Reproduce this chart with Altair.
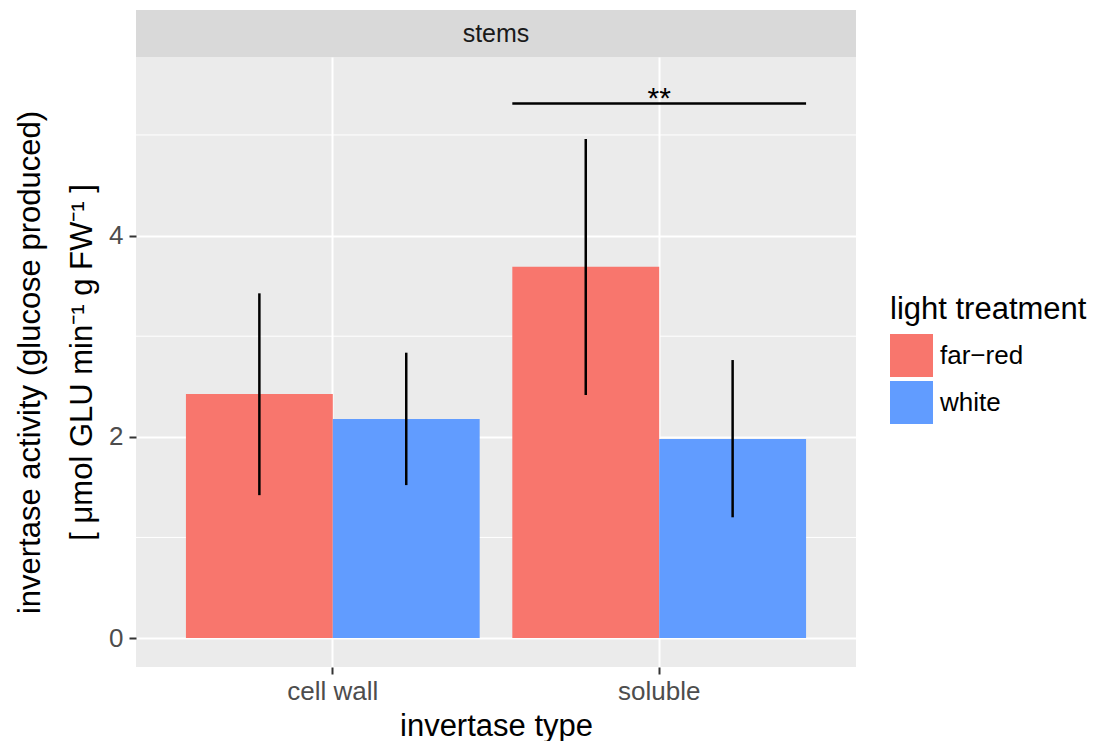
import altair as alt
import pandas as pd

# ---- data ----
types = ["cell wall", "cell wall", "soluble", "soluble"]
treatments = ["far−red", "white", "far−red", "white"]
means = [2.425, 2.177, 3.69, 1.978]
lower = [1.42, 1.52, 2.415, 1.20]
upper = [3.426, 2.836, 4.96, 2.763]

sig_type = ["soluble"]
sig_y = [5.30]
sig_label = ["**"]

minor_grid = [1, 3, 5]
major_ticks = [0, 2, 4]
panel_label = ["stems"]
legend_order = ["far−red", "white"]
bar_colors = ["#F8766D", "#619CFF"]

FONT = "Liberation Sans"

df = pd.DataFrame({"type": types, "treatment": treatments,
                   "mean": means, "lower": lower, "upper": upper})
sig_df = pd.DataFrame({"type": sig_type, "y": sig_y, "label": sig_label})
minor_df = pd.DataFrame({"v": minor_grid})
strip_df = pd.DataFrame({"label": panel_label})

yscale = alt.Scale(domain=[-0.288, 5.775], nice=False, zero=False)
xscale = alt.Scale(paddingInner=0.1, paddingOuter=0.153)

y_title = ["invertase activity (glucose produced)", "[ μmol GLU  min⁻¹ g FW⁻¹ ]"]
y_axis = alt.Axis(values=major_ticks, grid=True, gridColor="white", gridWidth=2,
                  domain=False, tickSize=7, tickWidth=2, tickColor="#333333",
                  labelFontSize=26, labelColor="#4D4D4D", labelPadding=6,
                  titleFontSize=31, titleColor="black", titleFontWeight="normal",
                  titleLineHeight=52, titlePadding=10)
x_axis = alt.Axis(labelAngle=0, grid=True, gridColor="white", gridWidth=2,
                  bandPosition=0.5, domain=False, tickSize=7, tickWidth=2,
                  tickColor="#333333", labelFontSize=26, labelColor="#4D4D4D",
                  labelPadding=4, titleFontSize=31, titleColor="black",
                  titleFontWeight="normal", titlePadding=7)

x_main = alt.X("type:N", scale=xscale, title="invertase type", axis=x_axis)


def yenc(field):
    return alt.Y(field, scale=yscale, title=y_title, axis=y_axis)


minor = alt.Chart(minor_df).mark_rule(color="white", strokeWidth=1).encode(
    y=yenc("v:Q")
)

bars = alt.Chart(df).mark_bar().encode(
    x=x_main,
    xOffset=alt.XOffset("treatment:N", sort=legend_order),
    y=yenc("mean:Q"),
    color=alt.Color("treatment:N", sort=legend_order,
                    scale=alt.Scale(domain=legend_order, range=bar_colors),
                    legend=alt.Legend(title="light treatment", orient="none",
                                      legendX=754, legendY=285,
                                      symbolType="square", symbolSize=1849,
                                      symbolStrokeWidth=0, symbolOpacity=1,
                                      rowPadding=4, titlePadding=8, titleLimit=400,
                                      titleFontSize=31, titleFontWeight="normal",
                                      titleColor="black", labelFontSize=26,
                                      labelColor="black", labelOffset=7, padding=0)),
)

errs = alt.Chart(df).mark_rule(color="black", strokeWidth=2.5).encode(
    x=x_main,
    xOffset=alt.XOffset("treatment:N", sort=legend_order),
    y=yenc("lower:Q"),
    y2="upper:Q",
)

sig_line = alt.Chart(sig_df).transform_calculate(
    y_hi="datum.y + 0.025"
).mark_bar(color="black").encode(
    x=x_main,
    y=yenc("y:Q"),
    y2="y_hi:Q",
)

sig_text = alt.Chart(sig_df).mark_text(fontSize=30, baseline="alphabetic", dy=3,
                                       color="black").encode(
    x=x_main,
    y=yenc("y:Q"),
    text="label:N",
)

main = alt.layer(minor, bars, errs, sig_line, sig_text).properties(
    width=720, height=610,
    view=alt.ViewBackground(fill="#EBEBEB", strokeWidth=0),
)

strip = alt.Chart(strip_df).mark_text(fontSize=25, color="#1A1A1A").encode(
    text="label:N"
).properties(width=720, height=47,
             view=alt.ViewBackground(fill="#D9D9D9", strokeWidth=0))

chart = alt.vconcat(strip, main, spacing=0).properties(
    padding={"left": 14, "top": 10, "right": 0, "bottom": 0},
    background="white",
).configure(font=FONT).configure_view(strokeWidth=0)

chart.save("out.html", embed_options={"renderer": "svg", "actions": False})
